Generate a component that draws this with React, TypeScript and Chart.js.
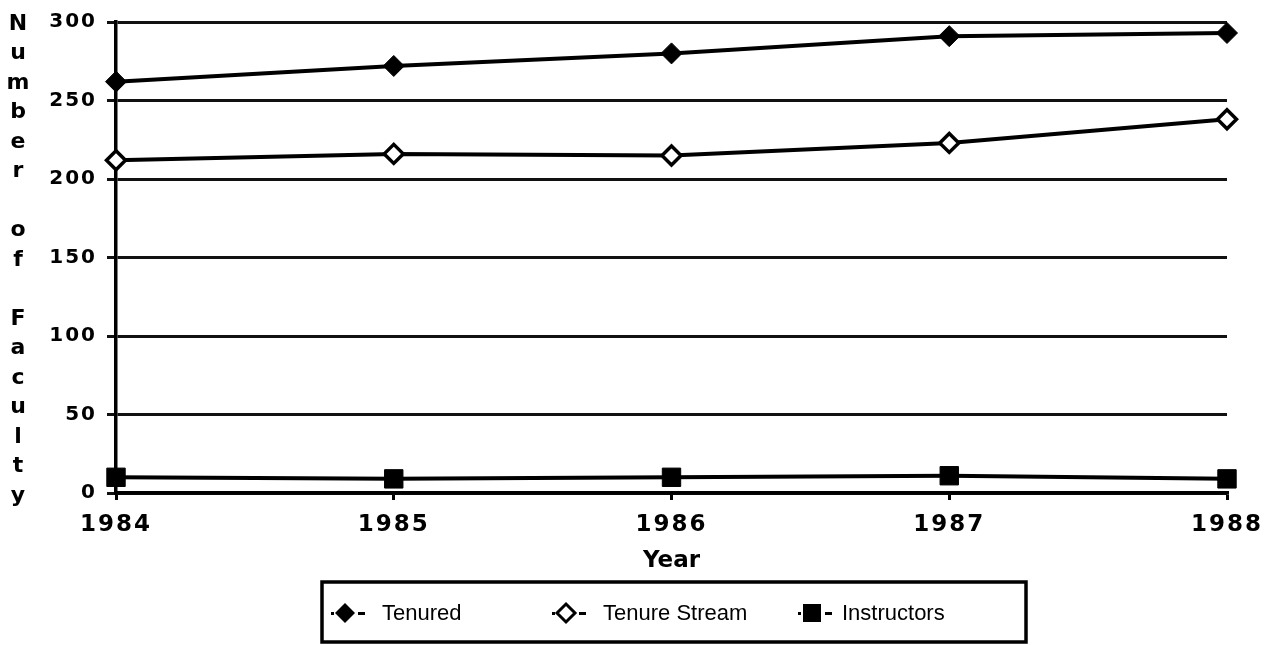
import React, { useEffect, useRef } from 'react';
import { Chart, registerables } from 'chart.js';

Chart.register(...registerables);

const years: string[] = ['1984', '1985', '1986', '1987', '1988'];
const tenured: number[] = [262, 272, 280, 291, 293];
const tenureStream: number[] = [212, 216, 215, 223, 238];
const instructors: number[] = [10, 9, 10, 11, 9];
const yMin = 0;
const yMax = 300;
const yStep = 50;
const yTitle = 'Number of Faculty';
const xTitle = 'Year';
const legendLabels: string[] = ['Tenured', 'Tenure Stream', 'Instructors'];

function drawMarker(ctx: CanvasRenderingContext2D, kind: number, x: number, y: number) {
  ctx.save();
  ctx.fillStyle = '#000';
  ctx.strokeStyle = '#000';
  // line stubs
  ctx.fillRect(x - 14, y - 1, 3, 3);
  ctx.fillRect(x + 13, y - 1, 7, 3);
  if (kind === 0 || kind === 1) {
    const r = kind === 0 ? 10 : 9;
    ctx.beginPath();
    ctx.moveTo(x, y - r);
    ctx.lineTo(x + r, y);
    ctx.lineTo(x, y + r);
    ctx.lineTo(x - r, y);
    ctx.closePath();
    if (kind === 0) {
      ctx.fill();
    } else {
      ctx.fillStyle = '#fff';
      ctx.fill();
      ctx.lineWidth = 3;
      ctx.stroke();
    }
  } else {
    ctx.fillRect(x - 9, y - 9, 18, 18);
  }
  ctx.restore();
}

const decor = {
  id: 'decor',
  beforeDraw(chart: any) {
    (chart.ctx as any).letterSpacing = '2px';
  },
  afterDraw(chart: any) {
    const ctx: CanvasRenderingContext2D = chart.ctx;
    const ca = chart.chartArea;
    ctx.save();
    (ctx as any).letterSpacing = '0px';
    ctx.fillStyle = '#000';
    ctx.textAlign = 'center';
    ctx.textBaseline = 'middle';
    // vertical stacked y title
    ctx.font = 'bold 22px "DejaVu Sans"';
    const chars = yTitle.split('');
    const y0 = ca.top + 2;
    const y1 = ca.bottom + 3;
    const step = (y1 - y0) / (chars.length - 1);
    chars.forEach((c, i) => {
      if (c !== ' ') ctx.fillText(c, 18, y0 + i * step);
    });
    // x title
    ctx.font = 'bold 23px "DejaVu Sans"';
    ctx.fillText(xTitle, (ca.left + ca.right) / 2, ca.bottom + 68);
    // legend box
    ctx.lineWidth = 3.5;
    ctx.strokeStyle = '#000';
    const bx = 322, by = 582, bw = 704, bh = 60;
    ctx.strokeRect(bx, by, bw, bh);
    const markerX = [345, 566, 812];
    const textX = [382, 603, 842];
    const ly = by + 31;
    ctx.font = '22px "Liberation Sans"';
    ctx.textAlign = 'left';
    legendLabels.forEach((lab, i) => {
      drawMarker(ctx, i, markerX[i], ly);
      ctx.fillText(lab, textX[i], ly + 1);
    });
    ctx.restore();
  },
};

export default function App() {
  const ref = useRef<HTMLCanvasElement>(null);
  useEffect(() => {
    document.body.style.margin = '0';
    const canvas = ref.current;
    if (!canvas) return;
    const common = {
      borderColor: '#000',
      borderWidth: 4,
      tension: 0,
      clip: false as any,
      pointBorderColor: '#000',
    };
    const chart = new Chart(canvas, {
      type: 'line',
      data: {
        labels: years,
        datasets: [
          {
            ...common,
            label: legendLabels[0],
            data: tenured,
            pointStyle: 'rectRot',
            pointRadius: 10.5,
            pointBackgroundColor: '#000',
            pointBorderWidth: 1,
          },
          {
            ...common,
            label: legendLabels[1],
            data: tenureStream,
            pointStyle: 'rectRot',
            pointRadius: 9.5,
            pointBackgroundColor: '#fff',
            pointBorderWidth: 3.5,
          },
          {
            ...common,
            label: legendLabels[2],
            data: instructors,
            pointStyle: 'rect',
            pointRadius: 13,
            pointBackgroundColor: '#000',
            pointBorderWidth: 1,
          },
        ],
      },
      options: {
        responsive: false,
        animation: false,
        devicePixelRatio: 1,
        layout: { padding: { left: 0, top: 18, right: 53, bottom: 0 } },
        plugins: {
          legend: { display: false },
          tooltip: { enabled: false },
        },
        scales: {
          x: {
            type: 'category',
            offset: false,
            afterFit: (s: any) => {
              s.height = 152;
            },
            grid: {
              display: true,
              drawOnChartArea: false,
              drawTicks: true,
              tickLength: 7,
              color: '#000',
              lineWidth: 3,
            },
            border: { display: true, color: '#000', width: 3.5 },
            ticks: {
              color: '#000',
              font: { family: '"DejaVu Sans"', size: 23, weight: 'bold' },
              padding: 11,
              maxRotation: 0,
              autoSkip: false,
            },
          },
          y: {
            min: yMin,
            max: yMax,
            afterFit: (s: any) => {
              s.width = 116;
            },
            grid: {
              color: '#111',
              lineWidth: 3,
              drawTicks: true,
              tickLength: 9,
            },
            border: { display: true, color: '#000', width: 3.5 },
            ticks: {
              stepSize: yStep,
              color: '#000',
              font: { family: '"DejaVu Sans"', size: 20, weight: 'bold' },
              padding: 10,
            },
          },
        },
      },
      plugins: [decor],
    });
    return () => chart.destroy();
  }, []);
  return <canvas ref={ref} width={1280} height={645} style={{ display: 'block' }} />;
}
